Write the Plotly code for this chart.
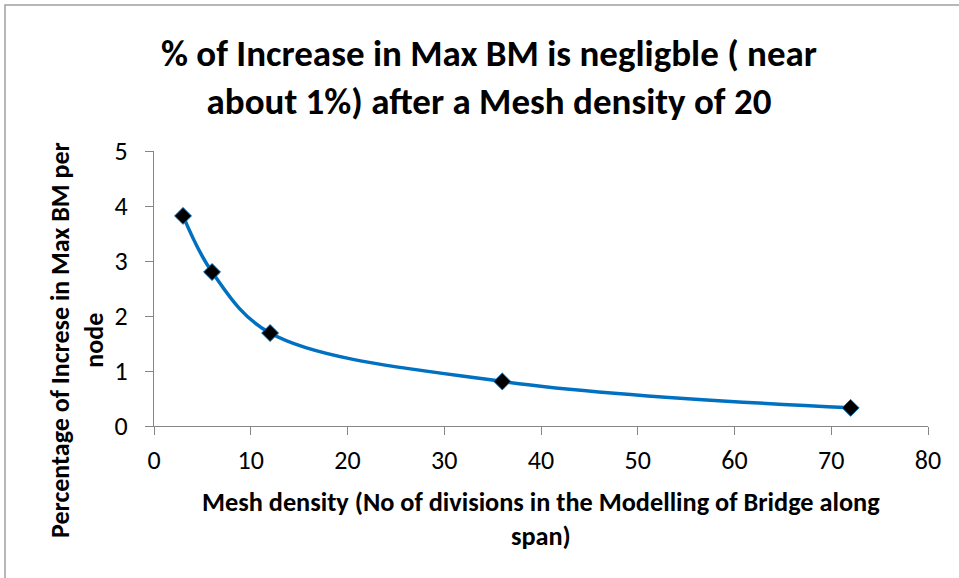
import plotly.graph_objects as go

mesh_density = [3, 6, 12, 36, 72]
pct_increase = [3.82, 2.80, 1.69, 0.81, 0.33]
x_ticks = [0, 10, 20, 30, 40, 50, 60, 70, 80]
y_ticks = [0, 1, 2, 3, 4, 5]

title_text = "% of Increase in Max BM is negligble ( near<br>about 1%) after a Mesh density of 20"
x_title = "Mesh density (No of divisions in the Modelling of Bridge along<br>span)"
y_title = "Percentage of Increse in Max BM per<br>node"

FONT = "Carlito, 'Liberation Sans Narrow', 'Liberation Sans', Arial, sans-serif"
BLUE = "#0070C0"
GRAY = "#868686"

W, H = 959, 578
L, R, T, B = 154, 31, 151, 152
pw, ph = W - L - R, H - T - B

def px2paper_x(px):
    return (px - L) / pw

def px2paper_y(py):
    return (H - B - py) / ph

def bold_lines(s):
    return "<br>".join("<b>" + part + "</b>" for part in s.split("<br>"))

fig = go.Figure()
fig.add_trace(go.Scatter(
    x=mesh_density, y=pct_increase, mode="lines+markers",
    line=dict(color=BLUE, width=3.5, shape="spline", smoothing=1.0),
    marker=dict(symbol="diamond", size=13, color="black",
                line=dict(color=BLUE, width=1)),
    showlegend=False, hoverinfo="x+y",
))

fig.update_layout(
    width=W, height=H,
    margin=dict(l=L, r=R, t=T, b=B),
    paper_bgcolor="white", plot_bgcolor="white",
    font=dict(family=FONT, color="black"),
    xaxis=dict(range=[0, 80], tickvals=x_ticks, ticks="outside", ticklen=8,
               tickcolor=GRAY, showline=True, linecolor=GRAY, linewidth=1,
               showgrid=False, zeroline=False, tickfont=dict(size=26, family=FONT),
               ticklabelstandoff=3, fixedrange=True),
    yaxis=dict(range=[0, 5], tickvals=y_ticks, ticks="outside", ticklen=8,
               tickcolor=GRAY, showline=True, linecolor=GRAY, linewidth=1,
               showgrid=False, zeroline=False, tickfont=dict(size=26, family=FONT),
               ticklabelstandoff=12, fixedrange=True),
    shapes=[dict(type="rect", xref="paper", yref="paper",
                 x0=px2paper_x(5), x1=px2paper_x(975),
                 y0=px2paper_y(600), y1=px2paper_y(5),
                 line=dict(color="#A0A0A0", width=1.5), fillcolor="rgba(0,0,0,0)",
                 layer="below")],
    annotations=[
        dict(text=bold_lines(title_text), xref="paper", yref="paper",
             x=px2paper_x(489), y=px2paper_y(77), xanchor="center", yanchor="middle",
             showarrow=False, font=dict(size=37, family=FONT, color="black"),
             align="center"),
        dict(text=bold_lines(x_title), xref="paper", yref="paper",
             x=px2paper_x(541), y=px2paper_y(519), xanchor="center", yanchor="middle",
             showarrow=False, font=dict(size=26.3, family=FONT, color="black"),
             align="center"),
        dict(text=bold_lines(y_title), xref="paper", yref="paper",
             x=px2paper_x(77), y=px2paper_y(340), xanchor="center", yanchor="middle",
             showarrow=False, textangle=-90, font=dict(size=26, family=FONT, color="black"),
             align="center"),
    ],
)

fig.write_html("out.html", config={"displayModeBar": False},
               post_script="document.body.style.margin='0';document.body.style.overflow='hidden';")
